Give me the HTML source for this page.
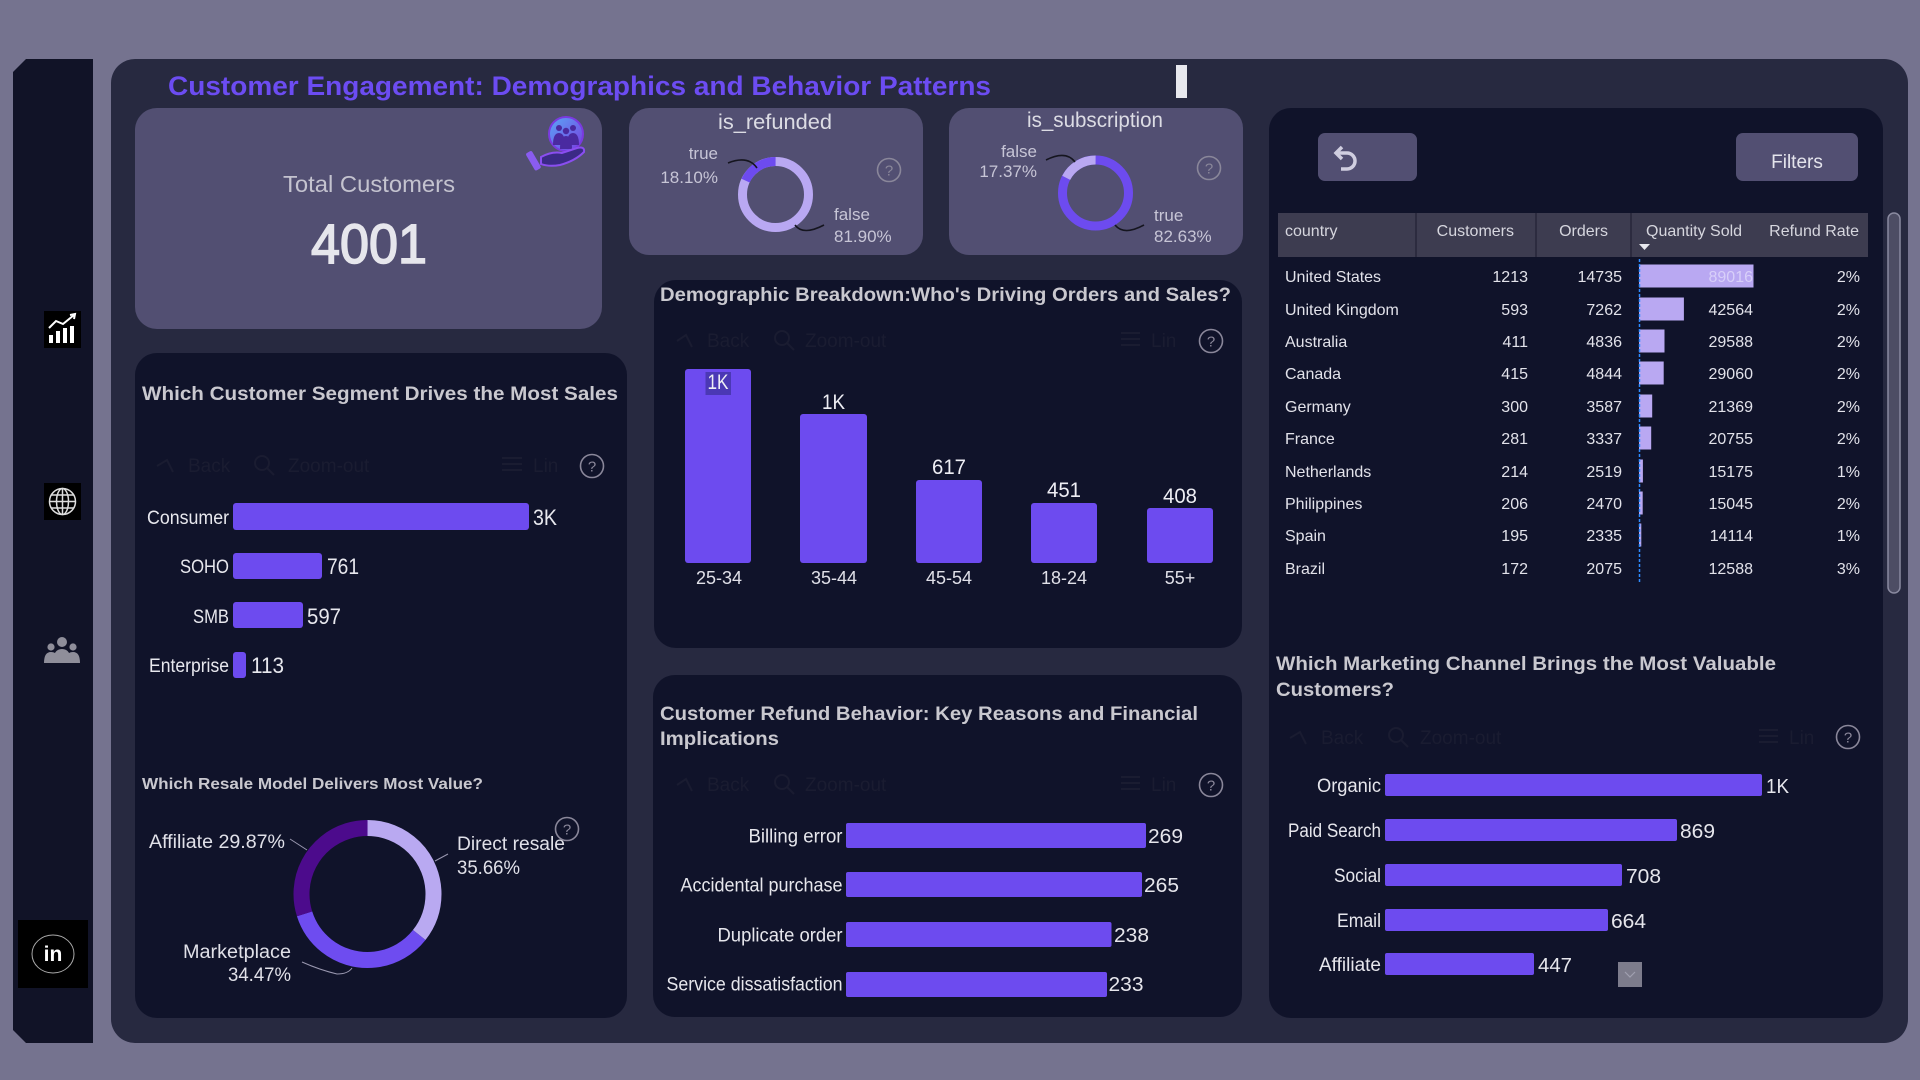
<!DOCTYPE html>
<html><head><meta charset="utf-8"><style>
html,body{margin:0;padding:0;width:1920px;height:1080px;overflow:hidden;background:#75738f;}
svg{display:block;font-family:"Liberation Sans",sans-serif;}
</style></head><body>
<svg width="1920" height="1080" viewBox="0 0 1920 1080" xmlns="http://www.w3.org/2000/svg">
<defs>
<linearGradient id="g1" x1="0" y1="0" x2="1" y2="1"><stop offset="0" stop-color="#58a8f6"/><stop offset="1" stop-color="#7a3ae0"/></linearGradient>
</defs>
<rect width="1920" height="1080" fill="#75738f"/>
<!-- sidebar -->
<polygon points="26,59 93,59 93,1043 26,1043 13,1030 13,72" fill="#111327"/>
<rect x="44" y="311" width="37" height="37" fill="#000"/>
<g fill="#fff"><rect x="49" y="335" width="4" height="8"/><rect x="56" y="331" width="4" height="12"/><rect x="63" y="328" width="4" height="15"/><rect x="70" y="326" width="4" height="17"/></g>
<polyline points="49,328 56,321 63,324 74,315" stroke="#fff" stroke-width="2" fill="none"/>
<polyline points="70,315 75,314 74,319" stroke="#fff" stroke-width="2" fill="none"/>
<rect x="44" y="483" width="37" height="37" fill="#000"/>
<g stroke="#ddd" stroke-width="1.5" fill="none"><circle cx="62.5" cy="501.5" r="13"/><ellipse cx="62.5" cy="501.5" rx="6" ry="13"/><line x1="49.5" y1="501.5" x2="75.5" y2="501.5"/><line x1="51" y1="495" x2="74" y2="495"/><line x1="51" y1="508" x2="74" y2="508"/><line x1="62.5" y1="488.5" x2="62.5" y2="514.5"/></g>
<g fill="#8f8e9a"><circle cx="62" cy="642" r="5"/><path d="M53,663 Q53,649 62,649 Q71,649 71,663 Z"/><circle cx="51" cy="647" r="3.6"/><path d="M44,663 Q44,652 51,652 Q56,652 57,656 L57,663 Z"/><circle cx="73" cy="647" r="3.6"/><path d="M80,663 Q80,652 73,652 Q68,652 67,656 L67,663 Z"/></g>
<rect x="18" y="920" width="70" height="68" fill="#000"/>
<ellipse cx="53" cy="954" rx="21" ry="19" stroke="#aaa" stroke-width="1" fill="none"/>
<text x="53" y="961" font-size="21" font-weight="bold" fill="#fff" text-anchor="middle">in</text>

<!-- main panel -->
<rect x="111" y="59" width="1797" height="984" rx="24" fill="#272940"/>
<text x="168" y="95" font-size="26.5" font-weight="bold" fill="#6c4cf2" textLength="823" lengthAdjust="spacingAndGlyphs">Customer Engagement: Demographics and Behavior Patterns</text>
<rect x="1176" y="65" width="11" height="33" fill="#e8e8ee"/>

<!-- Total customers -->
<rect x="135" y="108" width="467" height="221" rx="22" fill="#524f72"/>
<text x="369" y="192" font-size="23" fill="#c4c3cf" text-anchor="middle" textLength="172" lengthAdjust="spacingAndGlyphs">Total Customers</text>
<text x="369" y="263" font-size="56" fill="#e6e6ec" stroke="#e6e6ec" stroke-width="1.6" text-anchor="middle" textLength="116" lengthAdjust="spacingAndGlyphs">4001</text>
<circle cx="566" cy="134" r="17" fill="url(#g1)" stroke="#7a3ae0" stroke-width="2"/>
<g fill="#4a2aa0"><circle cx="559" cy="128" r="3"/><circle cx="573" cy="128" r="3"/><circle cx="566" cy="131" r="3.2"/><path d="M553,145 Q553,133 559,133 Q565,133 565,145Z"/><path d="M567,145 Q567,133 573,133 Q579,133 579,145Z"/><path d="M560,149 Q560,136 566,136 Q572,136 572,149Z"/></g>
<path d="M541,157 Q552,151 562,153 L577,148 Q585,146 584,152 Q575,161 560,165 Q549,167 541,164 Z" fill="#3b2a86" stroke="#8a4ef0" stroke-width="2"/>
<rect x="530" y="151" width="7" height="20" rx="2" fill="#8a5cf0" transform="rotate(-30 533 161)"/>

<!-- is_refunded -->
<rect x="629" y="108" width="294" height="147" rx="20" fill="#524f72"/>
<text x="775" y="129" font-size="21" fill="#dcdce4" text-anchor="middle" textLength="114" lengthAdjust="spacingAndGlyphs">is_refunded</text>
<circle cx="775.5" cy="194.5" r="33" stroke="#b9a8f2" stroke-width="9" fill="none"/>
<circle cx="775.5" cy="194.5" r="33" stroke="#6d4bef" stroke-width="9" fill="none" stroke-dasharray="37.53 207.35" transform="rotate(-155.16 775.5 194.5)"/>
<g font-size="17" fill="#c7c5d6"><text x="718" y="159" text-anchor="end">true</text><text x="718" y="183" text-anchor="end">18.10%</text><text x="834" y="220">false</text><text x="834" y="242">81.90%</text></g>
<path d="M728,163 Q748,155 757,168" stroke="#15151f" stroke-width="1.6" fill="none"/>
<path d="M795,225 Q803,236 824,225" stroke="#15151f" stroke-width="1.6" fill="none"/>
<circle cx="889" cy="170" r="11.5" stroke="#8a879a" stroke-width="1.6" fill="none"/><text x="889" y="175.5" font-size="15" fill="#8a879a" text-anchor="middle">?</text>

<!-- is_subscription -->
<rect x="949" y="108" width="294" height="147" rx="20" fill="#524f72"/>
<text x="1095" y="127" font-size="21" fill="#dcdce4" text-anchor="middle" textLength="136" lengthAdjust="spacingAndGlyphs">is_subscription</text>
<circle cx="1095.5" cy="193" r="33" stroke="#6d4bef" stroke-width="9" fill="none"/>
<circle cx="1095.5" cy="193" r="33" stroke="#b9a8f2" stroke-width="9" fill="none" stroke-dasharray="36.02 207.35" transform="rotate(-152.53 1095.5 193)"/>
<g font-size="17" fill="#c7c5d6"><text x="1037" y="157" text-anchor="end">false</text><text x="1037" y="177" text-anchor="end">17.37%</text><text x="1154" y="221">true</text><text x="1154" y="242">82.63%</text></g>
<path d="M1046,160 Q1066,150 1075,162" stroke="#15151f" stroke-width="1.6" fill="none"/>
<path d="M1115,225 Q1124,236 1144,225" stroke="#15151f" stroke-width="1.6" fill="none"/>
<circle cx="1209" cy="168" r="11.5" stroke="#8a879a" stroke-width="1.6" fill="none"/><text x="1209" y="173.5" font-size="15" fill="#8a879a" text-anchor="middle">?</text>

<!-- Right card -->
<rect x="1269" y="108" width="614" height="910" rx="22" fill="#10132a"/>
<rect x="1318" y="133" width="99" height="48" rx="7" fill="#524f72"/>
<path d="M1337,153 L1347,153 A8,8 0 0 1 1347,169 L1341,169" stroke="#d0cee0" stroke-width="3.5" fill="none"/>
<polyline points="1342,147 1336,153 1342,159" stroke="#d0cee0" stroke-width="3.5" fill="none"/>
<rect x="1736" y="133" width="122" height="48" rx="7" fill="#524f72"/>
<text x="1797" y="168" font-size="19" fill="#e4e4ec" text-anchor="middle">Filters</text>
<rect x="1278" y="213" width="590" height="44" fill="#3d3c50"/>
<g stroke="#2c2b3f" stroke-width="2"><line x1="1416" y1="213" x2="1416" y2="257"/><line x1="1536" y1="213" x2="1536" y2="257"/><line x1="1631" y1="213" x2="1631" y2="257"/></g>
<g font-size="16" fill="#d6d6de"><text x="1285" y="236">country</text><text x="1514" y="236" text-anchor="end">Customers</text><text x="1608" y="236" text-anchor="end">Orders</text><text x="1646" y="236">Quantity Sold</text><text x="1859" y="236" text-anchor="end">Refund Rate</text></g>
<polygon points="1639,244 1650,244 1644.5,250" fill="#e8e8ee"/>
<g fill="#b9a8f2">
<rect x="1639" y="264.5" width="114.5" height="23"/>
<rect x="1639" y="297.5" width="44.9" height="23"/>
<rect x="1639" y="329.5" width="25.5" height="23"/>
<rect x="1639" y="361.5" width="24.7" height="23"/>
<rect x="1639" y="394.5" width="13.2" height="23"/>
<rect x="1639" y="426.5" width="12.2" height="23"/>
<rect x="1639" y="459.5" width="3.9" height="23"/>
<rect x="1639" y="491.5" width="3.7" height="23"/>
<rect x="1639" y="523.5" width="2.3" height="23"/>
</g>
<line x1="1639.5" y1="259" x2="1639.5" y2="582" stroke="#2e8cff" stroke-width="1.5" stroke-dasharray="3 2"/>
<g font-size="16" fill="#e2e2ea">
<text x="1285" y="282">United States</text><text x="1528" y="282" text-anchor="end">1213</text><text x="1622" y="282" text-anchor="end">14735</text><text x="1753" y="282" text-anchor="end" fill="#d8cff9">89016</text><text x="1860" y="282" text-anchor="end">2%</text>
<text x="1285" y="315">United Kingdom</text><text x="1528" y="315" text-anchor="end">593</text><text x="1622" y="315" text-anchor="end">7262</text><text x="1753" y="315" text-anchor="end">42564</text><text x="1860" y="315" text-anchor="end">2%</text>
<text x="1285" y="347">Australia</text><text x="1528" y="347" text-anchor="end">411</text><text x="1622" y="347" text-anchor="end">4836</text><text x="1753" y="347" text-anchor="end">29588</text><text x="1860" y="347" text-anchor="end">2%</text>
<text x="1285" y="379">Canada</text><text x="1528" y="379" text-anchor="end">415</text><text x="1622" y="379" text-anchor="end">4844</text><text x="1753" y="379" text-anchor="end">29060</text><text x="1860" y="379" text-anchor="end">2%</text>
<text x="1285" y="412">Germany</text><text x="1528" y="412" text-anchor="end">300</text><text x="1622" y="412" text-anchor="end">3587</text><text x="1753" y="412" text-anchor="end">21369</text><text x="1860" y="412" text-anchor="end">2%</text>
<text x="1285" y="444">France</text><text x="1528" y="444" text-anchor="end">281</text><text x="1622" y="444" text-anchor="end">3337</text><text x="1753" y="444" text-anchor="end">20755</text><text x="1860" y="444" text-anchor="end">2%</text>
<text x="1285" y="477">Netherlands</text><text x="1528" y="477" text-anchor="end">214</text><text x="1622" y="477" text-anchor="end">2519</text><text x="1753" y="477" text-anchor="end">15175</text><text x="1860" y="477" text-anchor="end">1%</text>
<text x="1285" y="509">Philippines</text><text x="1528" y="509" text-anchor="end">206</text><text x="1622" y="509" text-anchor="end">2470</text><text x="1753" y="509" text-anchor="end">15045</text><text x="1860" y="509" text-anchor="end">2%</text>
<text x="1285" y="541">Spain</text><text x="1528" y="541" text-anchor="end">195</text><text x="1622" y="541" text-anchor="end">2335</text><text x="1753" y="541" text-anchor="end">14114</text><text x="1860" y="541" text-anchor="end">1%</text>
<text x="1285" y="574">Brazil</text><text x="1528" y="574" text-anchor="end">172</text><text x="1622" y="574" text-anchor="end">2075</text><text x="1753" y="574" text-anchor="end">12588</text><text x="1860" y="574" text-anchor="end">3%</text>
</g>
<rect x="1888" y="213" width="12" height="380" rx="6" fill="#4d4d64" stroke="#8a8aa0" stroke-width="1.5"/>

<!-- Marketing -->
<g font-size="19" font-weight="bold" fill="#c9c8cf"><text x="1276" y="670" textLength="500" lengthAdjust="spacingAndGlyphs">Which Marketing Channel Brings the Most Valuable</text><text x="1276" y="696" textLength="118" lengthAdjust="spacingAndGlyphs">Customers?</text></g>
<g stroke="#1a1c31" stroke-width="2" fill="none"><path d="M1306,744 L1300,732 L1290,738"/><circle cx="1396" cy="735" r="7"/><line x1="1401" y1="740" x2="1408" y2="747"/><line x1="1759" y1="730" x2="1778" y2="730"/><line x1="1759" y1="736" x2="1778" y2="736"/><line x1="1759" y1="742" x2="1778" y2="742"/></g>
<g font-size="19" fill="#1a1c31"><text x="1321" y="744">Back</text><text x="1420" y="744">Zoom-out</text><text x="1789" y="744">Lin</text></g>
<circle cx="1848" cy="737" r="11.5" stroke="#8a879a" stroke-width="1.6" fill="none"/><text x="1848" y="742.5" font-size="15" fill="#8a879a" text-anchor="middle">?</text>
<g fill="#6d4bef"><rect x="1385" y="774" width="377" height="22" rx="2"/><rect x="1385" y="819" width="292" height="22" rx="2"/><rect x="1385" y="864" width="237" height="22" rx="2"/><rect x="1385" y="909" width="223" height="22" rx="2"/><rect x="1385" y="953" width="149" height="22" rx="2"/></g>
<g font-size="19" fill="#e6e6ec" text-anchor="end"><text x="1381" y="792" textLength="64" lengthAdjust="spacingAndGlyphs">Organic</text><text x="1381" y="837" textLength="93" lengthAdjust="spacingAndGlyphs">Paid Search</text><text x="1381" y="882" textLength="47" lengthAdjust="spacingAndGlyphs">Social</text><text x="1381" y="927" textLength="44" lengthAdjust="spacingAndGlyphs">Email</text><text x="1381" y="971" textLength="62" lengthAdjust="spacingAndGlyphs">Affiliate</text></g>
<g font-size="20" fill="#e6e6ec"><text x="1766" y="793" textLength="23" lengthAdjust="spacingAndGlyphs">1K</text><text x="1680" y="838" textLength="35" lengthAdjust="spacingAndGlyphs">869</text><text x="1626" y="883" textLength="35" lengthAdjust="spacingAndGlyphs">708</text><text x="1611" y="928" textLength="35" lengthAdjust="spacingAndGlyphs">664</text><text x="1538" y="972" textLength="34" lengthAdjust="spacingAndGlyphs">447</text></g>
<rect x="1618" y="962" width="24" height="25" fill="#7d7c8c"/>
<polyline points="1625,972 1630,977 1635,972" stroke="#a0a0b0" stroke-width="1.2" fill="none"/>

<!-- Left card -->
<rect x="135" y="353" width="492" height="665" rx="22" fill="#10132a"/>
<text x="142" y="400" font-size="19.5" font-weight="bold" fill="#c9c8cf" textLength="476" lengthAdjust="spacingAndGlyphs">Which Customer Segment Drives the Most Sales</text>
<g stroke="#1a1c31" stroke-width="2" fill="none"><path d="M173,472 L167,460 L157,466"/><circle cx="262" cy="463" r="7"/><line x1="267" y1="468" x2="274" y2="475"/><line x1="502" y1="458" x2="522" y2="458"/><line x1="502" y1="464" x2="522" y2="464"/><line x1="502" y1="470" x2="522" y2="470"/></g>
<g font-size="19" fill="#1a1c31"><text x="188" y="472">Back</text><text x="288" y="472">Zoom-out</text><text x="533" y="472">Lin</text></g>
<circle cx="592" cy="466" r="11.5" stroke="#8a879a" stroke-width="1.6" fill="none"/><text x="592" y="471.5" font-size="15" fill="#8a879a" text-anchor="middle">?</text>
<g fill="#6d4bef"><rect x="233" y="503" width="296" height="27" rx="3"/><rect x="233" y="553" width="89" height="26" rx="3"/><rect x="233" y="602" width="70" height="26" rx="3"/><rect x="233" y="652" width="13" height="26" rx="3"/></g>
<g font-size="19.5" fill="#e8e8ee" text-anchor="end"><text x="229" y="524" textLength="82" lengthAdjust="spacingAndGlyphs">Consumer</text><text x="229" y="573" textLength="49" lengthAdjust="spacingAndGlyphs">SOHO</text><text x="229" y="623" textLength="36" lengthAdjust="spacingAndGlyphs">SMB</text><text x="229" y="672" textLength="80" lengthAdjust="spacingAndGlyphs">Enterprise</text></g>
<g font-size="22" fill="#e8e8ee"><text x="533" y="525" textLength="24" lengthAdjust="spacingAndGlyphs">3K</text><text x="327" y="574" textLength="32" lengthAdjust="spacingAndGlyphs">761</text><text x="307" y="624" textLength="34" lengthAdjust="spacingAndGlyphs">597</text><text x="251" y="673" textLength="33" lengthAdjust="spacingAndGlyphs">113</text></g>
<text x="142" y="789" font-size="16" font-weight="bold" fill="#c9c8cf" textLength="341" lengthAdjust="spacingAndGlyphs">Which Resale Model Delivers Most Value?</text>
<circle cx="367.5" cy="894" r="66" stroke="#b9a9f1" stroke-width="16" fill="none" stroke-dasharray="147.88 414.69" transform="rotate(-90 367.5 894)"/>
<circle cx="367.5" cy="894" r="66" stroke="#6e4cf0" stroke-width="16" fill="none" stroke-dasharray="142.94 414.69" transform="rotate(38.38 367.5 894)"/>
<circle cx="367.5" cy="894" r="66" stroke="#4c0b8c" stroke-width="16" fill="none" stroke-dasharray="123.87 414.69" transform="rotate(162.47 367.5 894)"/>
<g stroke="#9a98b0" stroke-width="1" fill="none"><path d="M290,839 L307,850"/><path d="M448,854 L435,861"/><path d="M302,962 Q320,970 337,974 Q348,974 352,968"/></g>
<g font-size="19" fill="#e0e0e8"><text x="285" y="848" text-anchor="end" textLength="136" lengthAdjust="spacingAndGlyphs">Affiliate 29.87%</text><text x="457" y="850" textLength="108" lengthAdjust="spacingAndGlyphs">Direct resale</text><text x="457" y="874" textLength="63" lengthAdjust="spacingAndGlyphs">35.66%</text><text x="291" y="958" text-anchor="end" textLength="108" lengthAdjust="spacingAndGlyphs">Marketplace</text><text x="291" y="981" text-anchor="end" textLength="63" lengthAdjust="spacingAndGlyphs">34.47%</text></g>
<circle cx="567" cy="829" r="11.5" stroke="#8a879a" stroke-width="1.6" fill="none"/><text x="567" y="834.5" font-size="15" fill="#8a879a" text-anchor="middle">?</text>

<!-- Demographic -->
<rect x="654" y="280" width="588" height="368" rx="22" fill="#10132a"/>
<text x="660" y="301" font-size="19.5" font-weight="bold" fill="#c9c8cf" textLength="571" lengthAdjust="spacingAndGlyphs">Demographic Breakdown:Who's Driving Orders and Sales?</text>
<g stroke="#1a1c31" stroke-width="2" fill="none"><path d="M692,347 L686,335 L677,341"/><circle cx="782" cy="338" r="7"/><line x1="787" y1="343" x2="794" y2="350"/><line x1="1121" y1="333" x2="1140" y2="333"/><line x1="1121" y1="339" x2="1140" y2="339"/><line x1="1121" y1="345" x2="1140" y2="345"/></g>
<g font-size="19" fill="#1a1c31"><text x="707" y="347">Back</text><text x="805" y="347">Zoom-out</text><text x="1151" y="347">Lin</text></g>
<circle cx="1211" cy="341" r="11.5" stroke="#8a879a" stroke-width="1.6" fill="none"/><text x="1211" y="346.5" font-size="15" fill="#8a879a" text-anchor="middle">?</text>
<g fill="#6d4bef"><rect x="685" y="369" width="66" height="194" rx="3"/><rect x="800" y="414" width="67" height="149" rx="3"/><rect x="916" y="480" width="66" height="83" rx="3"/><rect x="1031" y="503" width="66" height="60" rx="3"/><rect x="1147" y="508" width="66" height="55" rx="3"/></g>
<rect x="705.5" y="372" width="25.5" height="23" fill="#4b38b5"/>
<g font-size="21" fill="#eeeef4" text-anchor="middle"><text x="718" y="389" textLength="21" lengthAdjust="spacingAndGlyphs">1K</text><text x="833.5" y="409" textLength="23" lengthAdjust="spacingAndGlyphs">1K</text><text x="949" y="474" textLength="34" lengthAdjust="spacingAndGlyphs">617</text><text x="1064" y="497" textLength="34" lengthAdjust="spacingAndGlyphs">451</text><text x="1180" y="503" textLength="34" lengthAdjust="spacingAndGlyphs">408</text></g>
<g font-size="18" fill="#e0e0e8" text-anchor="middle"><text x="719" y="584">25-34</text><text x="834" y="584">35-44</text><text x="949" y="584">45-54</text><text x="1064" y="584">18-24</text><text x="1180" y="584">55+</text></g>

<!-- Refund -->
<rect x="653" y="675" width="589" height="342" rx="22" fill="#10132a"/>
<g font-size="19.5" font-weight="bold" fill="#c9c8cf"><text x="660" y="720" textLength="538" lengthAdjust="spacingAndGlyphs">Customer Refund Behavior: Key Reasons and Financial</text><text x="660" y="745" textLength="119" lengthAdjust="spacingAndGlyphs">Implications</text></g>
<g stroke="#1a1c31" stroke-width="2" fill="none"><path d="M692,791 L686,779 L677,785"/><circle cx="782" cy="782" r="7"/><line x1="787" y1="787" x2="794" y2="794"/><line x1="1121" y1="777" x2="1140" y2="777"/><line x1="1121" y1="783" x2="1140" y2="783"/><line x1="1121" y1="789" x2="1140" y2="789"/></g>
<g font-size="19" fill="#1a1c31"><text x="707" y="791">Back</text><text x="805" y="791">Zoom-out</text><text x="1151" y="791">Lin</text></g>
<circle cx="1211" cy="785" r="11.5" stroke="#8a879a" stroke-width="1.6" fill="none"/><text x="1211" y="790.5" font-size="15" fill="#8a879a" text-anchor="middle">?</text>
<g fill="#6d4bef"><rect x="846" y="823" width="300" height="25" rx="2"/><rect x="846" y="872" width="296" height="25" rx="2"/><rect x="846" y="922" width="265.5" height="25" rx="2"/><rect x="846" y="972" width="261" height="25" rx="2"/></g>
<g font-size="19" fill="#e6e6ec" text-anchor="end"><text x="842.5" y="842.5" textLength="94" lengthAdjust="spacingAndGlyphs">Billing error</text><text x="842.5" y="891.5" textLength="162" lengthAdjust="spacingAndGlyphs">Accidental purchase</text><text x="842.5" y="941.5" textLength="125" lengthAdjust="spacingAndGlyphs">Duplicate order</text><text x="842.5" y="990.5" textLength="176" lengthAdjust="spacingAndGlyphs">Service dissatisfaction</text></g>
<g font-size="20" fill="#e6e6ec"><text x="1148" y="843" textLength="35" lengthAdjust="spacingAndGlyphs">269</text><text x="1144" y="892" textLength="35" lengthAdjust="spacingAndGlyphs">265</text><text x="1114" y="942" textLength="35" lengthAdjust="spacingAndGlyphs">238</text><text x="1108.5" y="991" textLength="35" lengthAdjust="spacingAndGlyphs">233</text></g>
</svg>
</body></html>
